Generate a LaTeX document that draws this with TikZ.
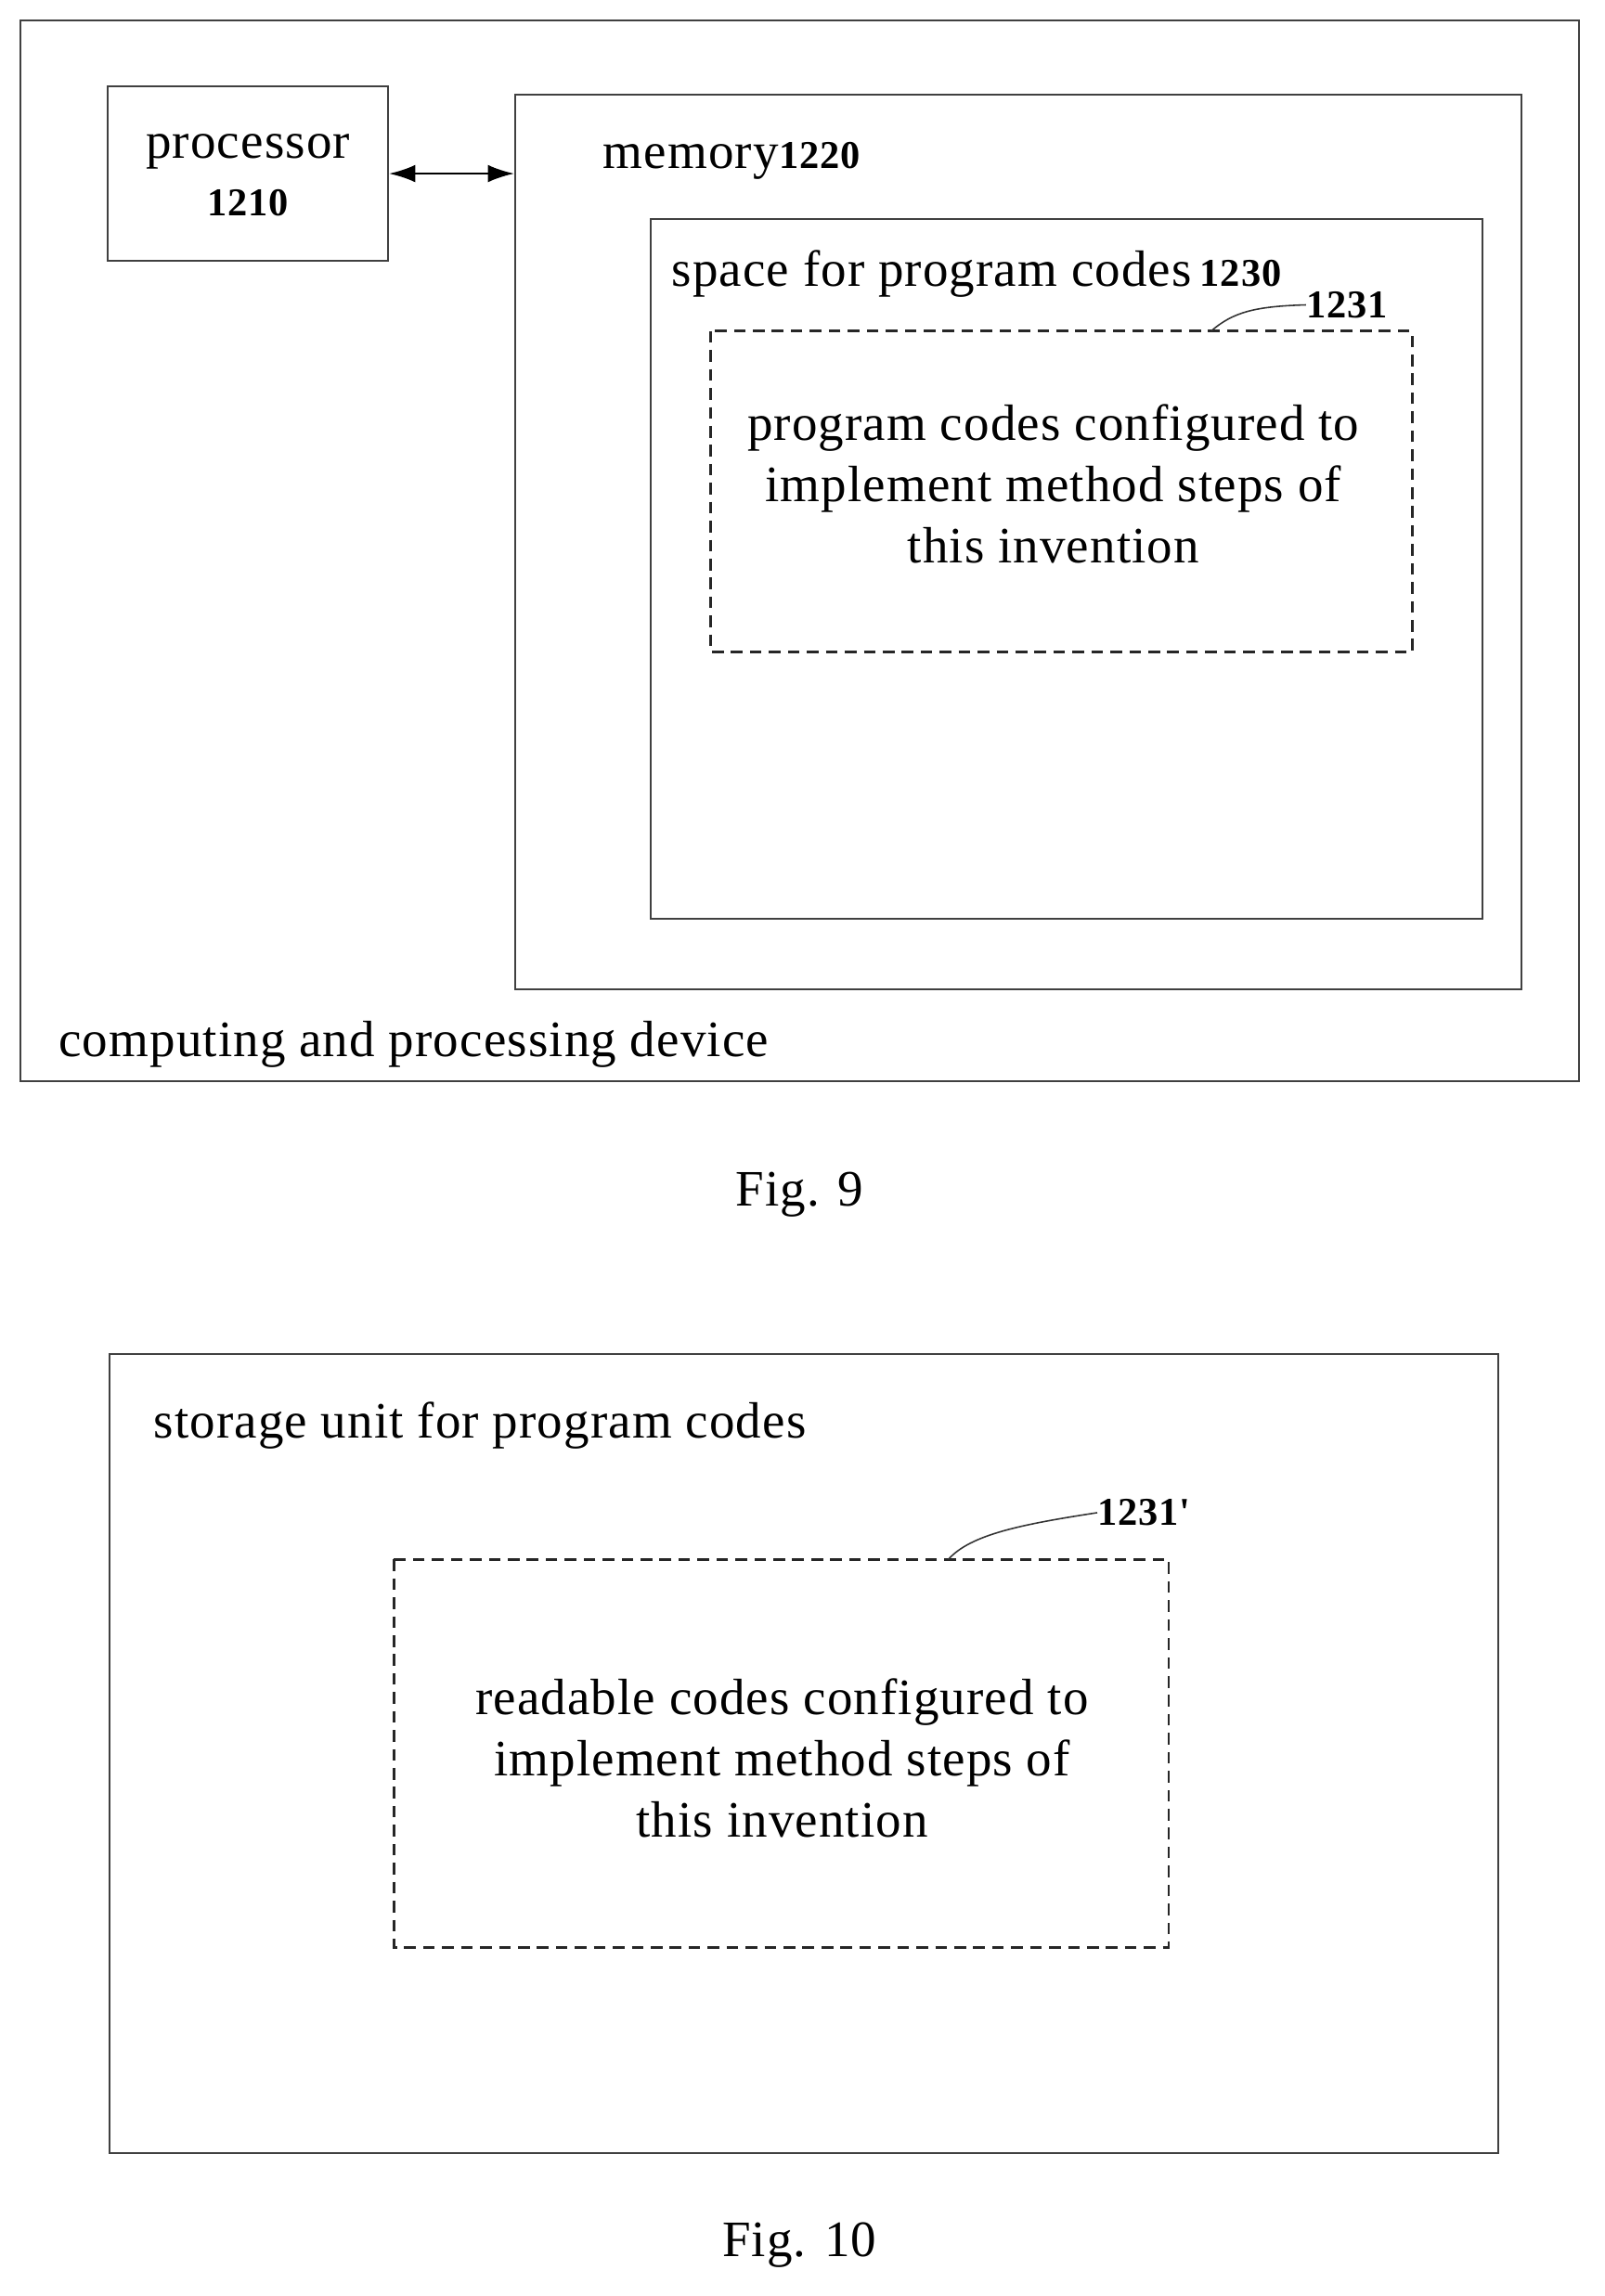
\documentclass[tikz,border=0pt]{standalone}
\usepackage{fontspec}
\usetikzlibrary{arrows.meta}
\setmainfont[LetterSpace=2]{Liberation Serif}
\begin{document}
\begin{tikzpicture}[x=0.5pt,y=-0.5pt,
  box/.style={draw=black!75,line width=0.6pt},
  dbox/.style={draw=black!85,line width=0.9pt,dash pattern=on 4pt off 2.5pt},
  txt/.style={font=\fontsize{17.5}{21}\selectfont,inner sep=0pt},
  num/.style={font=\fontsize{13.5}{16}\selectfont\bfseries,inner sep=0pt}]
\useasboundingbox (0,0) rectangle (1100,1574);
\draw[box] (14,14) rectangle (1082,741);
\node[box,minimum width=96pt,minimum height=60pt] (proc) at (170,119) {};
\node[txt] at (170,104) {processor};
\node[num] at (170,139) {1210};
\node[box,minimum width=345pt,minimum height=306.5pt] (mem) at (698,371.5) {};
\node[txt,anchor=west] at (413,110) {memory\textbf{\fontsize{13.5}{16}\selectfont 1220}};
\draw[box] (446,150) rectangle (1016,630);
\node[txt,anchor=west] at (460,188) {space for program codes\,\textbf{\fontsize{13.5}{16}\selectfont 1230}};
\draw[dbox] (487,227) rectangle (968,447);
\node[num,anchor=west] (l1) at (895,209) {1231};
\draw[black!80,line width=0.5pt] (830,227) .. controls (845,214) and (860,210) .. (l1.west);
\node[txt,align=center] at (722,332) {program codes configured to\\implement method steps of\\this invention};
\node[txt,anchor=west] at (40,716) {computing and processing device};
\draw[<->,>={Latex[length=9pt,width=6pt]},line width=0.8pt] (proc.east) -- (mem.west|-proc.east);
\node[txt] at (548,819) {Fig. 9};
\draw[box] (75,928) rectangle (1027,1476);
\node[txt,anchor=west] at (105,977) {storage unit for program codes};
\draw[dbox] (270,1069) rectangle (801,1335);
\node[num,anchor=west] (l2) at (752,1037) {1231\textquotesingle};
\draw[black!80,line width=0.5pt] (650,1069) .. controls (665,1052) and (700,1045) .. (l2.west);
\node[txt,align=center] at (536,1205) {readable codes configured to\\implement method steps of\\this invention};
\node[txt] at (548,1539) {Fig. 10};
\end{tikzpicture}
\end{document}
